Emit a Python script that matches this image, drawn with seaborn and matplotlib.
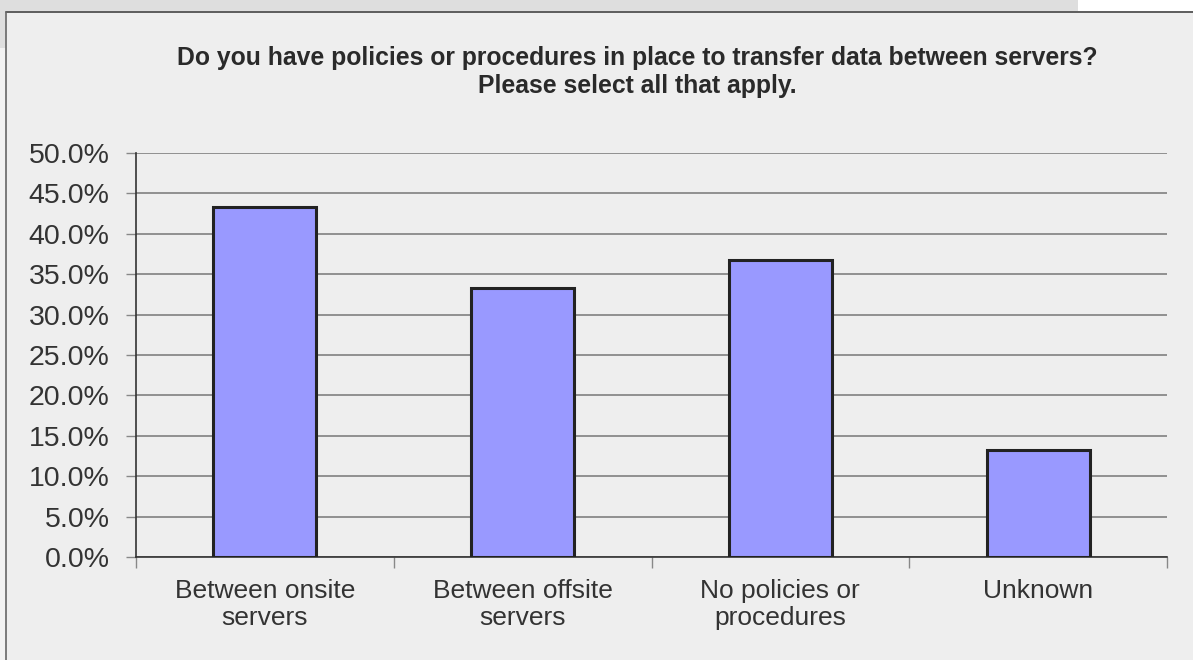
import numpy as np
import matplotlib
matplotlib.use("Agg")
import matplotlib.pyplot as plt
import seaborn as sns
from matplotlib.patches import Rectangle
from matplotlib.lines import Line2D
from matplotlib.ticker import FixedLocator, FuncFormatter

# ---------------------------
# Data
# ---------------------------
categories = ["Between onsite\nservers", "Between offsite\nservers",
              "No policies or\nprocedures", "Unknown"]
percentages = [43.3, 33.3, 36.7, 13.3]
y_ticks = [0, 5, 10, 15, 20, 25, 30, 35, 40, 45, 50]
title = ("Do you have policies or procedures in place to transfer data between servers?\n"
         "Please select all that apply.")

sns.set_style("white")
plt.rcParams["font.family"] = ["Liberation Sans", "DejaVu Sans"]

W, H = 1193, 660
fig = plt.figure(figsize=(W / 100, H / 100), dpi=100)
fig.patch.set_facecolor("#EEEEEE")

# outer frame / screenshot edges
fig.patches.append(Rectangle((0, 1 - 11 / H), 1078 / W, 11 / H, transform=fig.transFigure,
                             facecolor="#DEDEDE", edgecolor="none", zorder=0))
fig.patches.append(Rectangle((1078 / W, 1 - 11 / H), 1 - 1078 / W, 11 / H, transform=fig.transFigure,
                             facecolor="white", edgecolor="none", zorder=0))
fig.patches.append(Rectangle((0, 1 - 48 / H), 6 / W, 37 / H, transform=fig.transFigure,
                             facecolor="#DEDEDE", edgecolor="none", zorder=0))
fig.patches.append(Rectangle((0, 0), 6 / W, 1 - 48 / H, transform=fig.transFigure,
                             facecolor="#F2F2F2", edgecolor="none", zorder=0))
fig.lines.append(Line2D([6 / W, 1], [1 - 11.5 / H, 1 - 11.5 / H], transform=fig.transFigure,
                        color="#444444", lw=1.2))
fig.lines.append(Line2D([6.5 / W, 6.5 / W], [0, 1 - 11.5 / H], transform=fig.transFigure,
                        color="#666666", lw=1.2))

# ---------------------------
# Bars
# ---------------------------
ax = fig.add_axes([136 / W, 1 - 557 / H, (1167 - 136) / W, (557 - 153) / H])
ax.set_facecolor("#EEEEEE")
sns.barplot(x=categories, y=percentages, color="#9999FF", saturation=1, width=0.4,
            edgecolor="#222222", linewidth=2.2, ax=ax, zorder=3)

ax.set_xlim(-0.5, len(categories) - 0.5)
ax.set_ylim(0, 50)
ax.set_yticks(y_ticks)
ax.yaxis.set_major_formatter(FuncFormatter(lambda v, p: f"{v:.1f}%"))
ax.grid(axis="y", color="#808080", linewidth=1.2, zorder=0)
ax.set_axisbelow(True)

for s in ["top", "right"]:
    ax.spines[s].set_visible(False)
for s in ["left", "bottom"]:
    ax.spines[s].set_color("#333333")
    ax.spines[s].set_linewidth(1.2)

ax.tick_params(axis="y", length=7, width=1, color="#888888", labelsize=20.5,
               labelcolor="#333333", pad=12, left=True)
ax.tick_params(axis="x", which="major", length=0, labelsize=19, labelcolor="#333333", pad=16)
ax.xaxis.set_minor_locator(FixedLocator(np.arange(-0.5, len(categories), 1.0)))
ax.tick_params(axis="x", which="minor", length=8, width=1, color="#888888", bottom=True)
for lbl in ax.get_xticklabels():
    lbl.set_linespacing(1.15)
ax.set_xlabel("")
ax.set_ylabel("")

fig.text(637 / W, 1 - 72 / H, title, ha="center", va="center", fontsize=17.8,
         fontweight="bold", color="#2A2A2A", linespacing=1.18)

fig.savefig("out.png", dpi=100, facecolor=fig.get_facecolor())
